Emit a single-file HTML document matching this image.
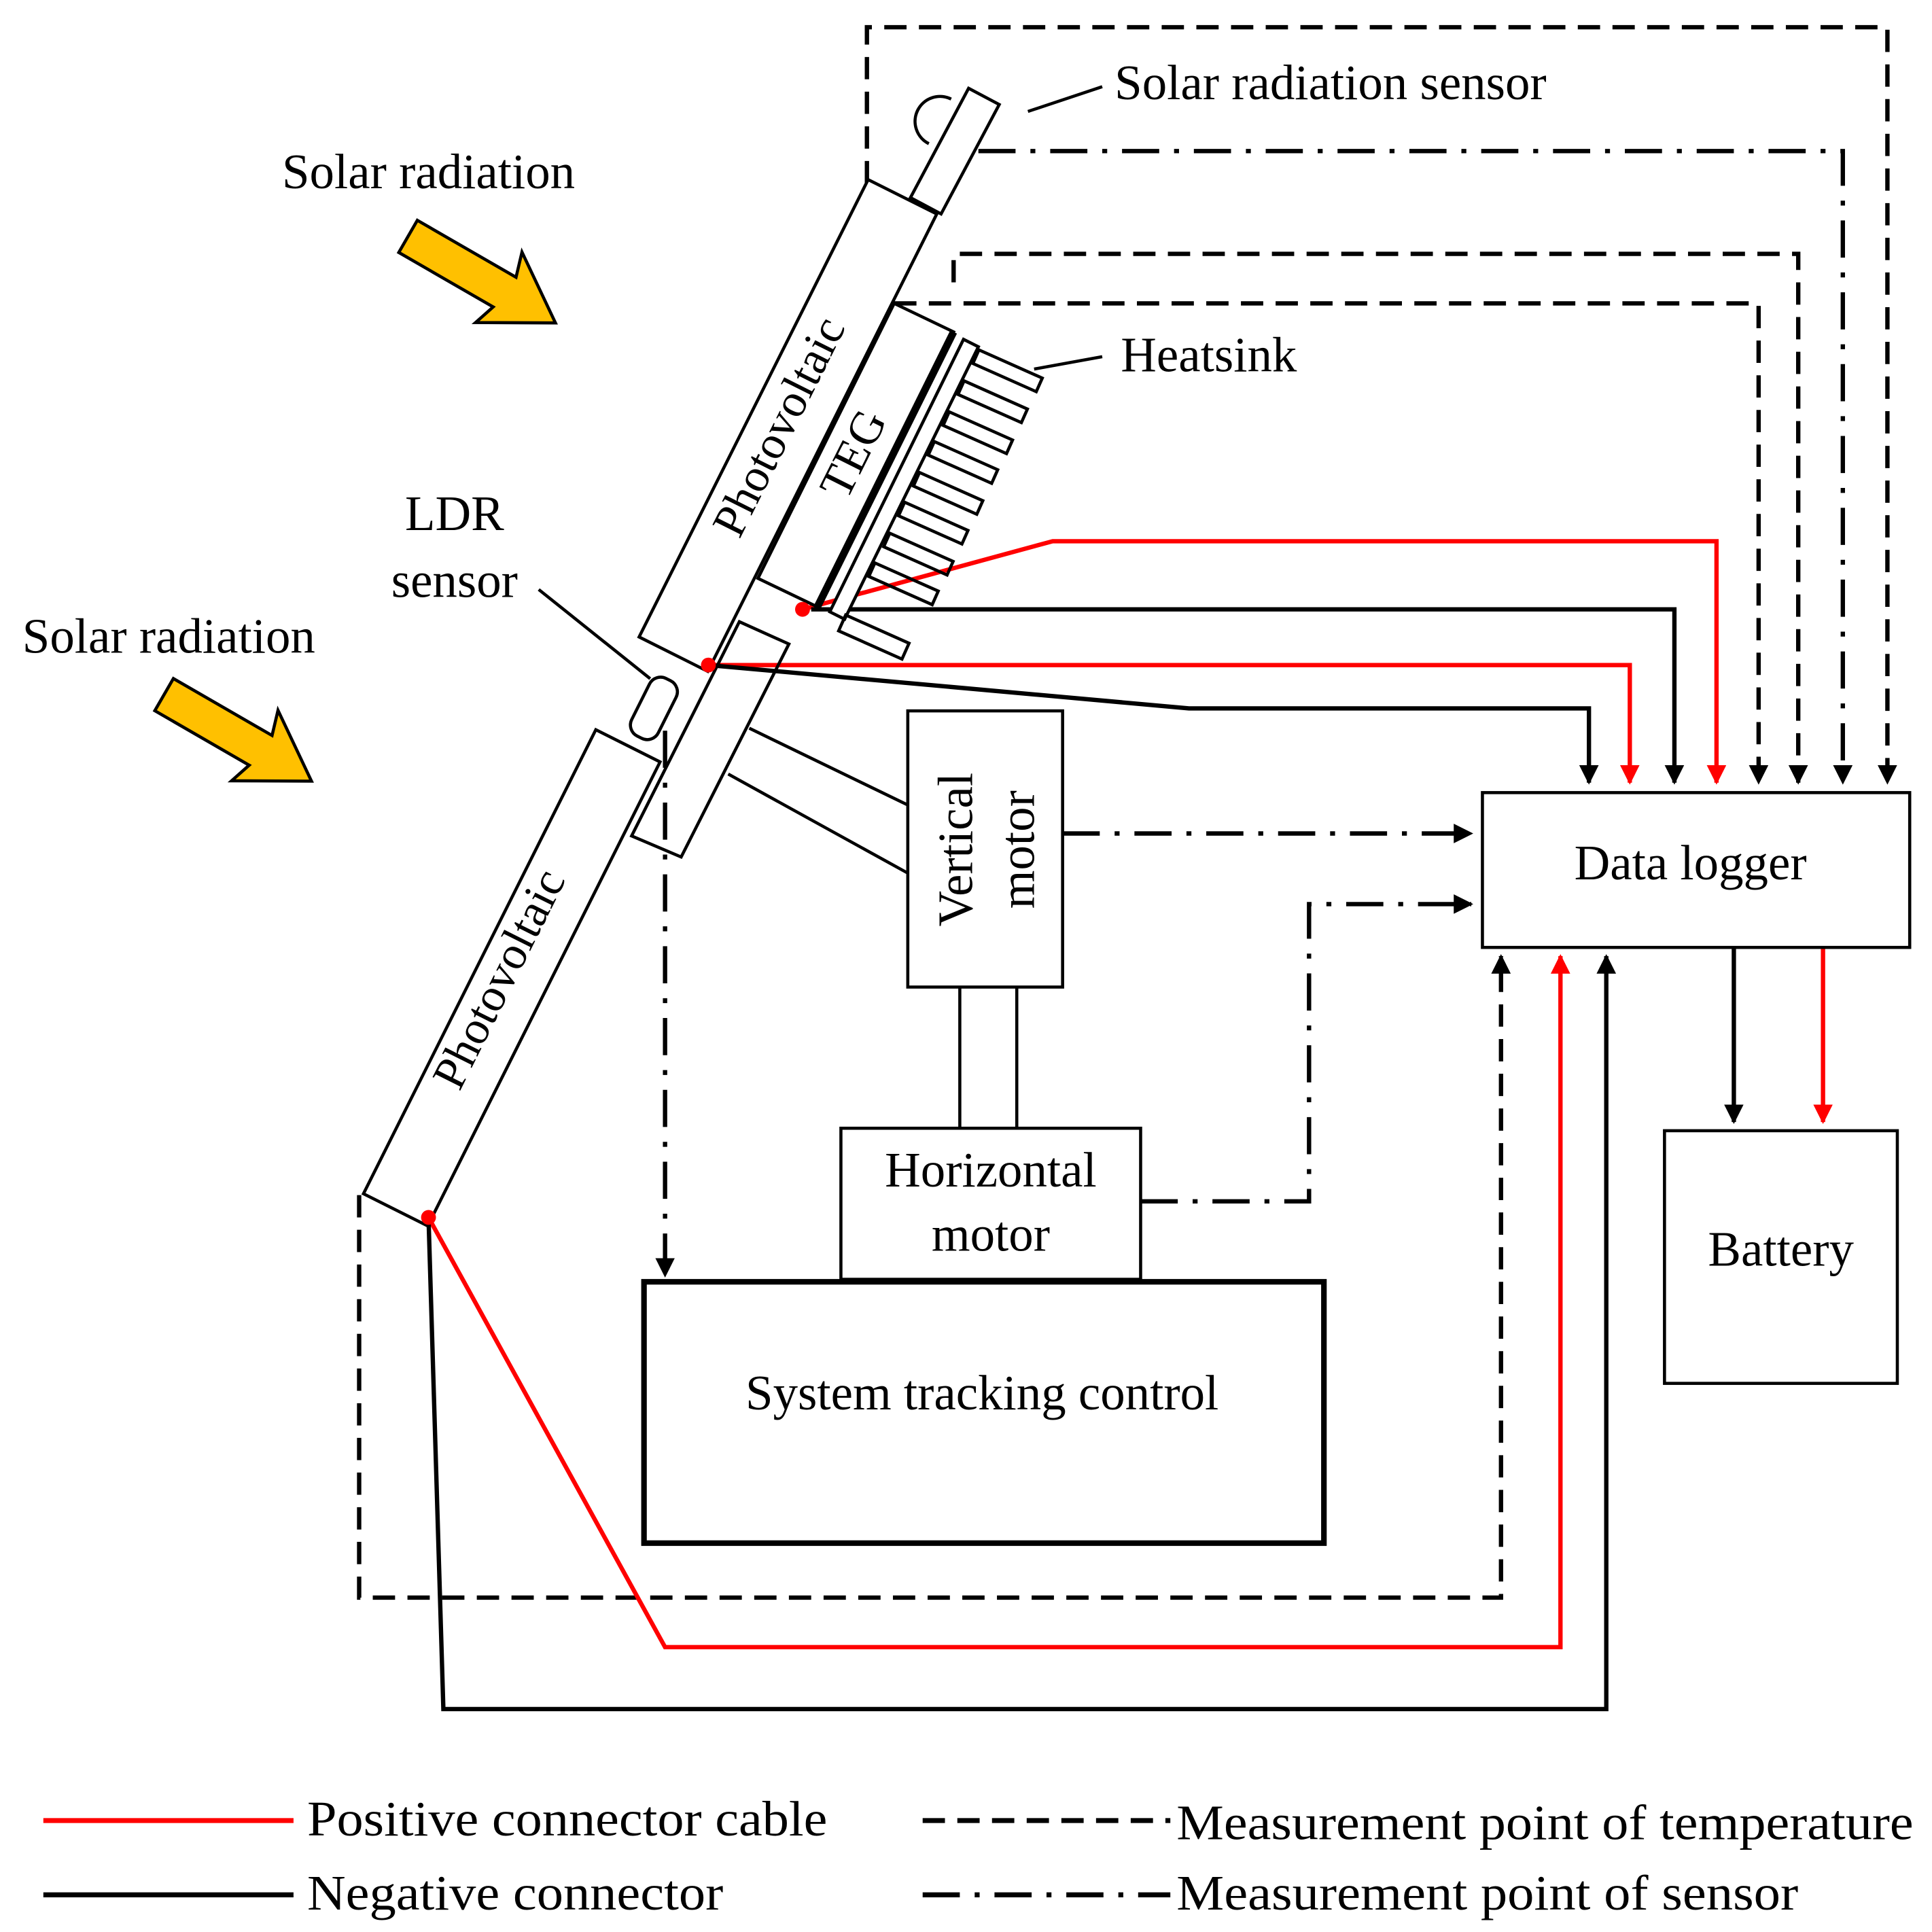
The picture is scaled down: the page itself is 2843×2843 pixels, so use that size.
<!DOCTYPE html>
<html><head><meta charset="utf-8"><style>html,body{margin:0;padding:0;background:#fff}svg{display:block}</style></head>
<body>
<svg width="2843" height="2843" viewBox="0 0 1560 1560" xmlns="http://www.w3.org/2000/svg" font-family="'Liberation Serif', serif">
<defs>
<marker id="ab" viewBox="0 0 10 10" refX="9" refY="5" markerWidth="4.5" markerHeight="4.5" orient="auto"><path d="M0,0 L10,5 L0,10 z" fill="#000"/></marker>
<marker id="ar" viewBox="0 0 10 10" refX="9" refY="5" markerWidth="4.5" markerHeight="4.5" orient="auto"><path d="M0,0 L10,5 L0,10 z" fill="#f00"/></marker>
</defs>
<rect width="1560" height="1560" fill="#fff"/>
<g fill="none" stroke-linejoin="miter">
<g stroke="#000" stroke-width="3.5" stroke-dasharray="18 10">
<path d="M700,148 V22 H1524 V632" marker-end="url(#ab)"/>
<path d="M770,228 V205 H1452 V632" marker-end="url(#ab)"/>
<path d="M722,245 H1420 V632" marker-end="url(#ab)"/>
<path d="M290,965 V1290 H1212 V772" marker-end="url(#ab)"/>
</g>
<g stroke="#000" stroke-width="3.5" stroke-dasharray="30 12 4 12">
<path d="M790,122 H1488 V632" marker-end="url(#ab)"/>
<path d="M858,673 H1188" marker-end="url(#ab)"/>
<path d="M921,970 H1057 V730 H1188" marker-end="url(#ab)"/>
<path d="M537,590 V1030" marker-end="url(#ab)"/>
</g>
<g stroke="#f00" stroke-width="3.5">
<path d="M648,492 L850,437 H1386 V632" marker-end="url(#ar)"/>
<path d="M572,537 H1316 V632" marker-end="url(#ar)"/>
<path d="M346,983 L537,1330 H1260 V772" marker-end="url(#ar)"/>
<path d="M1472,765 V906" marker-end="url(#ar)"/>
</g>
<g stroke="#000" stroke-width="3.5">
<path d="M655,492 H1352 V632" marker-end="url(#ab)"/>
<path d="M572,537 L960,572 H1283 V632" marker-end="url(#ab)"/>
<path d="M346,983 L358,1380 H1297 V772" marker-end="url(#ab)"/>
<path d="M1400,765 V906" marker-end="url(#ab)"/>
</g>
<g stroke="#000" stroke-width="2.5">
<g transform="translate(636,344) rotate(-63.4)"><rect x="-206" y="-31" width="413" height="62" fill="#fff"/></g>
<g transform="translate(413,790) rotate(-63.4)"><rect x="-209" y="-29" width="419" height="58" fill="#fff"/></g>
<g transform="translate(771,122) rotate(-62)"><rect x="-50" y="-14" width="100" height="28" fill="#fff"/></g>
<path d="M750,116 A20,20 0 0 1 768,80"/>
<polygon points="597,502 637,520 550,692 510,675" fill="none"/>
<line x1="605" y1="588" x2="733" y2="650"/>
<line x1="588" y1="625" x2="733" y2="705"/>
<g transform="translate(528,572) rotate(-63.4)"><rect x="-26" y="-12" width="52" height="24" rx="10"/></g>
<polygon points="722,245 770,268 660,490 612,467" fill="#fff"/>
<line x1="770" y1="268" x2="660" y2="490" stroke-width="6"/>
<polygon points="778,274 790,280 682,500 670,494" fill="#fff"/>
<g transform="translate(788,288) rotate(24)"><rect x="0" y="-6" width="56" height="12"/></g>
<g transform="translate(776,313) rotate(24)"><rect x="0" y="-6" width="56" height="12"/></g>
<g transform="translate(764,338) rotate(24)"><rect x="0" y="-6" width="56" height="12"/></g>
<g transform="translate(752,362) rotate(24)"><rect x="0" y="-6" width="56" height="12"/></g>
<g transform="translate(740,387) rotate(24)"><rect x="0" y="-6" width="56" height="12"/></g>
<g transform="translate(728,411) rotate(24)"><rect x="0" y="-6" width="56" height="12"/></g>
<g transform="translate(716,436) rotate(24)"><rect x="0" y="-6" width="56" height="12"/></g>
<g transform="translate(704,460) rotate(24)"><rect x="0" y="-6" width="56" height="12"/></g>
<g transform="translate(680,503) rotate(24)"><rect x="0" y="-7" width="56" height="14"/></g>
<line x1="830" y1="90" x2="890" y2="70"/>
<line x1="835" y1="298" x2="890" y2="288"/>
<line x1="435" y1="476" x2="525" y2="548"/>
<line x1="775" y1="797" x2="775" y2="911"/>
<line x1="821" y1="797" x2="821" y2="911"/>
<rect x="733" y="574" width="125" height="223" fill="#fff"/>
<rect x="679" y="911" width="242" height="122" fill="#fff"/>
<rect x="1197" y="640" width="345" height="125"/>
<rect x="1344" y="913" width="188" height="204"/>
</g>
<rect x="520" y="1035" width="549" height="211" stroke="#000" stroke-width="4.5"/>
<circle cx="648" cy="492" r="6" fill="#f00" stroke="none"/>
<circle cx="572" cy="537" r="6" fill="#f00" stroke="none"/>
<circle cx="346" cy="983" r="6" fill="#f00" stroke="none"/>
<polygon transform="translate(330,190) rotate(30)" points="0,-14 92,-14 86,-34 138,2 82,34 88,16 0,16" fill="#FFC000" stroke="#000" stroke-width="2.5"/>
<polygon transform="translate(133,560) rotate(30)" points="0,-14 92,-14 86,-34 138,2 82,34 88,16 0,16" fill="#FFC000" stroke="#000" stroke-width="2.5"/>
<line x1="35" y1="1470" x2="237" y2="1470" stroke="#f00" stroke-width="4"/>
<line x1="35" y1="1530" x2="237" y2="1530" stroke="#000" stroke-width="4"/>
<line x1="745" y1="1470" x2="945" y2="1470" stroke="#000" stroke-width="4" stroke-dasharray="18 10"/>
<line x1="745" y1="1530" x2="945" y2="1530" stroke="#000" stroke-width="4" stroke-dasharray="30 12 4 12"/>
</g>
<g fill="#000" font-size="40">
<text x="346" y="152" text-anchor="middle">Solar radiation</text>
<text x="18" y="527">Solar radiation</text>
<text x="900" y="80">Solar radiation sensor</text>
<text x="905" y="300">Heatsink</text>
<text x="367" y="428" text-anchor="middle">LDR</text>
<text x="367" y="482" text-anchor="middle">sensor</text>
<text x="1365" y="710" text-anchor="middle">Data logger</text>
<text x="1438" y="1022" text-anchor="middle">Battery</text>
<text x="800" y="958" text-anchor="middle">Horizontal</text>
<text x="800" y="1010" text-anchor="middle">motor</text>
<text x="793" y="1138" text-anchor="middle">System tracking control</text>
<g transform="translate(795,686) rotate(-90)"><text x="0" y="-10" text-anchor="middle">Vertical</text><text x="0" y="40" text-anchor="middle">motor</text></g>
<text transform="translate(640,350) rotate(-63.4)" text-anchor="middle" font-size="38">Photovoltaic</text>
<text transform="translate(414,796) rotate(-63.4)" text-anchor="middle" font-size="38">Photovoltaic</text>
<text transform="translate(700,372) rotate(-63.4)" text-anchor="middle" font-size="38">TEG</text>
<text x="248" y="1482" textLength="420" lengthAdjust="spacingAndGlyphs">Positive connector cable</text>
<text x="248" y="1542" textLength="336" lengthAdjust="spacingAndGlyphs">Negative connector</text>
<text x="950" y="1485" textLength="595" lengthAdjust="spacingAndGlyphs">Measurement point of temperature</text>
<text x="950" y="1542" textLength="502" lengthAdjust="spacingAndGlyphs">Measurement point of sensor</text>
</g>
</svg>
</body></html>
